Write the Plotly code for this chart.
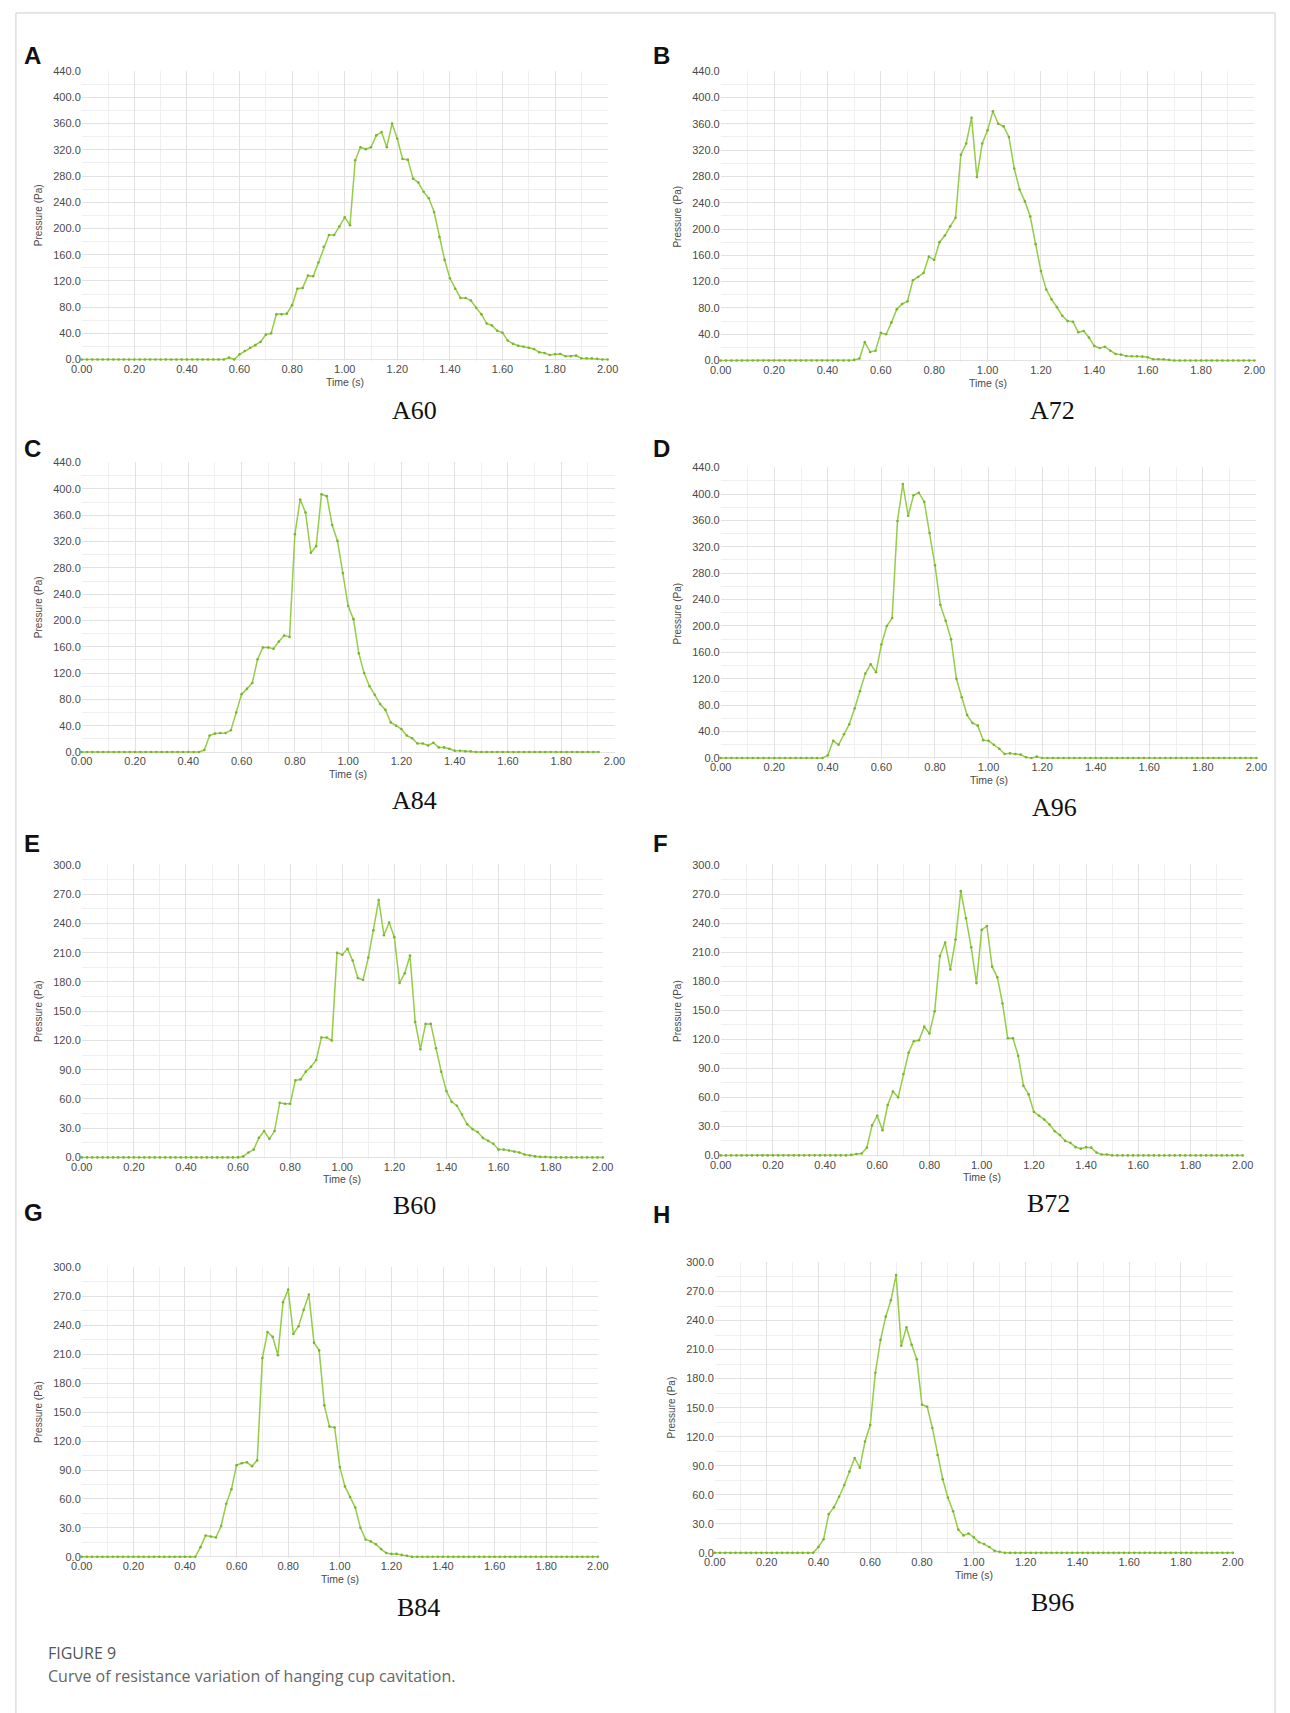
import plotly.graph_objects as go

W, H = 1290, 1713

# ---------------- data ----------------
TIME = [0.00, 0.02, 0.04, 0.06, 0.08, 0.10, 0.12, 0.14, 0.16, 0.18,
        0.20, 0.22, 0.24, 0.26, 0.28, 0.30, 0.32, 0.34, 0.36, 0.38,
        0.40, 0.42, 0.44, 0.46, 0.48, 0.50, 0.52, 0.54, 0.56, 0.58,
        0.60, 0.62, 0.64, 0.66, 0.68, 0.70, 0.72, 0.74, 0.76, 0.78,
        0.80, 0.82, 0.84, 0.86, 0.88, 0.90, 0.92, 0.94, 0.96, 0.98,
        1.00, 1.02, 1.04, 1.06, 1.08, 1.10, 1.12, 1.14, 1.16, 1.18,
        1.20, 1.22, 1.24, 1.26, 1.28, 1.30, 1.32, 1.34, 1.36, 1.38,
        1.40, 1.42, 1.44, 1.46, 1.48, 1.50, 1.52, 1.54, 1.56, 1.58,
        1.60, 1.62, 1.64, 1.66, 1.68, 1.70, 1.72, 1.74, 1.76, 1.78,
        1.80, 1.82, 1.84, 1.86, 1.88, 1.90, 1.92, 1.94, 1.96, 1.98,
        2.00]

A60 = [0, 0, 0, 0, 0, 0, 0, 0, 0, 0,
       0, 0, 0, 0, 0, 0, 0, 0, 0, 0,
       0, 0, 0, 0, 0, 0, 0, 0, 3, 0,
       8, 13, 18, 22, 27, 38, 40, 69, 69, 70,
       83, 108, 109, 128, 127, 148, 172, 190, 190, 203,
       217, 205, 304, 324, 321, 324, 342, 347, 324, 360,
       337, 306, 305, 276, 270, 256, 246, 225, 187, 152,
       124, 108, 94, 94, 90, 79, 69, 55, 52, 44,
       41, 29, 24, 21, 20, 18, 16, 11, 10, 7,
       8, 8.5, 5, 5, 6, 2, 2, 2, 1, 0,
       0]

A72 = [0, 0, 0, 0, 0, 0, 0, 0, 0, 0,
       0, 0, 0, 0, 0, 0, 0, 0, 0, 0,
       0, 0, 0, 0, 0, 1, 3, 28, 13, 15,
       42, 40, 58, 78, 86, 90, 122, 127, 133, 158,
       153, 180, 190, 204, 217, 313, 330, 369, 279, 330,
       350, 379, 360, 356, 340, 292, 260, 242, 219, 177,
       136, 108, 93, 81, 68, 60, 59, 43, 45, 35,
       22, 19, 21, 15, 10, 9, 7, 6.5, 6.5, 6,
       5, 2, 2, 2, 1, 0, 0, 0, 0, 0,
       0, 0, 0, 0, 0, 0, 0, 0, 0, 0,
       0]

A84 = [0, 0, 0, 0, 0, 0, 0, 0, 0, 0,
       0, 0, 0, 0, 0, 0, 0, 0, 0, 0,
       0, 0, 0, 3, 25, 28, 29, 29, 33, 60,
       88, 96, 105, 141, 159, 159, 157, 168, 177, 175,
       331, 384, 364, 303, 313, 392, 389, 345, 321, 272,
       222, 202, 150, 120, 100, 87, 73, 64, 45, 40,
       35, 25, 21, 13, 13, 10, 14, 7, 7, 5,
       2, 2, 1, 1, 0, 0, 0, 0, 0, 0,
       0, 0, 0, 0, 0, 0, 0, 0, 0, 0,
       0, 0, 0, 0, 0, 0, 0, 0]

A96 = [0, 0, 0, 0, 0, 0, 0, 0, 0, 0,
       0, 0, 0, 0, 0, 0, 0, 0, 0, 0,
       4, 26, 20, 36, 51, 75, 101, 128, 142, 130,
       172, 200, 212, 359, 415, 367, 398, 402, 388, 341,
       292, 232, 208, 180, 120, 92, 65, 53, 49, 27,
       26, 20, 14, 6, 7, 6, 5, 1, 0, 2,
       0, 0, 0, 0, 0, 0, 0, 0, 0, 0,
       0, 0, 0, 0, 0, 0, 0, 0, 0, 0,
       0, 0, 0, 0, 0, 0, 0, 0, 0, 0,
       0, 0, 0, 0, 0, 0, 0, 0, 0, 0,
       0]

B60 = [0, 0, 0, 0, 0, 0, 0, 0, 0, 0,
       0, 0, 0, 0, 0, 0, 0, 0, 0, 0,
       0, 0, 0, 0, 0, 0, 0, 0, 0, 0,
       0, 1, 5, 8, 20, 27, 19, 27, 56, 55,
       55, 79, 80, 88, 93, 100, 123, 123, 120, 210,
       208, 214, 202, 184, 182, 205, 233, 264, 228, 241,
       226, 179, 189, 207, 139, 111, 137, 137, 112, 88,
       68, 57, 53, 44, 34, 29, 26, 20, 17, 14,
       8, 8, 7, 6, 5, 3, 2, 1, 0.5, 0.5,
       0, 0, 0, 0, 0, 0, 0, 0, 0, 0,
       0]

B72 = [0, 0, 0, 0, 0, 0, 0, 0, 0, 0,
       0, 0, 0, 0, 0, 0, 0, 0, 0, 0,
       0, 0, 0, 0, 0, 0.5, 1.5, 2, 8, 31,
       41, 26, 52, 66, 60, 84, 106, 118, 119, 133,
       126, 149, 206, 220, 192, 223, 273, 245, 215, 178,
       233, 237, 195, 184, 157, 121, 121, 103, 72, 63,
       45, 41, 37, 32, 25, 21, 15, 13, 8.5, 7,
       8.5, 8, 3, 1, 1, 0, 0, 0, 0, 0,
       0, 0, 0, 0, 0, 0, 0, 0, 0, 0,
       0, 0, 0, 0, 0, 0, 0, 0, 0, 0,
       0]

B84 = [0, 0, 0, 0, 0, 0, 0, 0, 0, 0,
       0, 0, 0, 0, 0, 0, 0, 0, 0, 0,
       0, 0, 0, 10, 22, 21, 20, 32, 55, 70,
       95, 97, 98, 94, 100, 206, 233, 228, 209, 264,
       277, 231, 239, 256, 272, 222, 214, 157, 135, 134,
       93, 73, 62, 51, 30, 18, 16, 13, 8, 4,
       3, 3, 2, 1, 0, 0, 0, 0, 0, 0,
       0, 0, 0, 0, 0, 0, 0, 0, 0, 0,
       0, 0, 0, 0, 0, 0, 0, 0, 0, 0,
       0, 0, 0, 0, 0, 0, 0, 0, 0, 0,
       0]

B96 = [0, 0, 0, 0, 0, 0, 0, 0, 0, 0,
       0, 0, 0, 0, 0, 0, 0, 0, 0, 0,
       6, 14, 40, 47, 58, 70, 84, 98, 88, 115,
       132, 186, 220, 244, 261, 287, 214, 233, 215, 200,
       153, 151, 129, 101, 76, 57, 43, 24, 18, 20,
       16, 11, 9, 6, 2, 1, 0, 0, 0, 0,
       0, 0, 0, 0, 0, 0, 0, 0, 0, 0,
       0, 0, 0, 0, 0, 0, 0, 0, 0, 0,
       0, 0, 0, 0, 0, 0, 0, 0, 0, 0,
       0, 0, 0, 0, 0, 0, 0, 0, 0, 0,
       0]

LETTERS = ["A", "B", "C", "D", "E", "F", "G", "H"]
NAMES = ["A60", "A72", "A84", "A96", "B60", "B72", "B84", "B96"]
SERIES = [A60, A72, A84, A96, B60, B72, B84, B96]
YMAX = [440, 440, 440, 440, 300, 300, 300, 300]
YSTEP = [40, 40, 40, 40, 30, 30, 30, 30]
X_TITLE = "Time (s)"
Y_TITLE = "Pressure (Pa)"
CAPTION_TITLE = "FIGURE 9"
CAPTION_TEXT = "Curve of resistance variation of hanging cup cavitation."

# ---------------- layout (pixel boxes: x0, x1, ytop, ybottom) ----------------
BOXES = [
    (72, 607, 65, 357),
    (722, 1265, 65, 358),
    (72, 614, 459, 752),
    (722, 1267, 464, 758),
    (72, 602, 864, 1160),
    (722, 1253, 864, 1158),
    (72, 597, 1269, 1562),
    (716, 1243, 1264, 1558),
]
LETTER_POS = [(11, 50), (651, 50), (11, 445), (651, 445),
              (11, 843), (651, 843), (11, 1214), (651, 1216)]
NAME_POS = [(410, 407), (1060, 407), (410, 800), (1062, 807),
            (410, 1207), (1056, 1205), (415, 1612), (1060, 1607)]

LINE_COLOR = "#95cc48"
MARK_COLOR = "#7ab332"
TICK_FONT = dict(family="Liberation Sans, Arial, sans-serif", size=11, color="#4a4a4a")


def px(x):
    return x / W


def py(y):
    return 1 - y / H


fig = go.Figure()
annotations = []
layout = {}

for i in range(8):
    k = "" if i == 0 else str(i + 1)
    x0, x1, yt, yb = BOXES[i]
    vals = SERIES[i]
    fig.add_trace(go.Scatter(
        x=TIME[:len(vals)], y=vals, mode="lines+markers",
        line=dict(color=LINE_COLOR, width=1.5),
        marker=dict(size=2.6, color=MARK_COLOR),
        xaxis="x" + k, yaxis="y" + k, showlegend=False, cliponaxis=False,
        hoverinfo="x+y",
    ))
    ymax, ystep = YMAX[i], YSTEP[i]
    layout["xaxis" + k] = dict(
        domain=[px(x0), px(x1)], anchor="y" + k, range=[0, 2.0],
        tick0=0, dtick=0.2, tickformat=".2f", ticks="",
        showgrid=True, gridcolor="#e2e2e2", gridwidth=1,
        minor=dict(dtick=0.1, showgrid=True, gridcolor="#efefef", gridwidth=1),
        zeroline=False, showline=False, tickfont=TICK_FONT,
    )
    layout["yaxis" + k] = dict(
        domain=[py(yb), py(yt)], anchor="x" + k,
        range=[-ymax * 0.004, ymax * 1.002],
        tick0=0, dtick=ystep, tickformat=".1f", ticks="",
        showgrid=True, gridcolor="#e2e2e2", gridwidth=1,
        minor=dict(dtick=ystep / 2, showgrid=True, gridcolor="#efefef", gridwidth=1),
        zeroline=False, showline=False, tickfont=TICK_FONT,
    )
    annotations.append(dict(
        x=px((x0 + x1) / 2), y=py(yb + 21), xref="paper", yref="paper",
        text=X_TITLE, showarrow=False, xanchor="center", yanchor="middle",
        font=dict(family="Liberation Sans, Arial, sans-serif", size=10.5, color="#4a4a4a"),
    ))
    annotations.append(dict(
        x=px(x0 - 44), y=py((yt + yb) / 2), xref="paper", yref="paper",
        text=Y_TITLE, showarrow=False, textangle=-90, xanchor="center", yanchor="middle",
        font=dict(family="Liberation Sans, Arial, sans-serif", size=10, color="#4a4a4a"),
    ))
    lx, ly = LETTER_POS[i]
    annotations.append(dict(
        x=px(lx), y=py(ly), xref="paper", yref="paper", text="<b>" + LETTERS[i] + "</b>",
        showarrow=False, xanchor="left", yanchor="middle",
        font=dict(family="Liberation Sans, Arial, sans-serif", size=24, color="#111111"),
    ))
    nx, ny = NAME_POS[i]
    annotations.append(dict(
        x=px(nx), y=py(ny), xref="paper", yref="paper", text=NAMES[i],
        showarrow=False, xanchor="center", yanchor="middle",
        font=dict(family="Liberation Serif, Times New Roman, serif", size=26, color="#111111"),
    ))

annotations.append(dict(
    x=px(36), y=py(1658), xref="paper", yref="paper", text=CAPTION_TITLE,
    showarrow=False, xanchor="left", yanchor="middle",
    font=dict(family="Open Sans, sans-serif", size=16, color="#555555"),
))
annotations.append(dict(
    x=px(36), y=py(1681), xref="paper", yref="paper", text=CAPTION_TEXT,
    showarrow=False, xanchor="left", yanchor="middle",
    font=dict(family="Open Sans, sans-serif", size=16, color="#666666"),
))

shapes = [dict(
    type="rect", xref="paper", yref="paper",
    x0=px(5), x1=px(1286), y0=-0.02, y1=py(7),
    line=dict(color="#cfcfcf", width=1), fillcolor="rgba(0,0,0,0)", layer="below",
)]

fig.update_layout(
    width=W, height=H, margin=dict(l=0, r=0, t=0, b=0),
    paper_bgcolor="white", plot_bgcolor="white",
    annotations=annotations, shapes=shapes, **layout,
)

fig.write_html(
    "out.html",
    config={"displayModeBar": False},
    post_script="document.body.style.margin='0';document.body.style.overflow='hidden';",
)
